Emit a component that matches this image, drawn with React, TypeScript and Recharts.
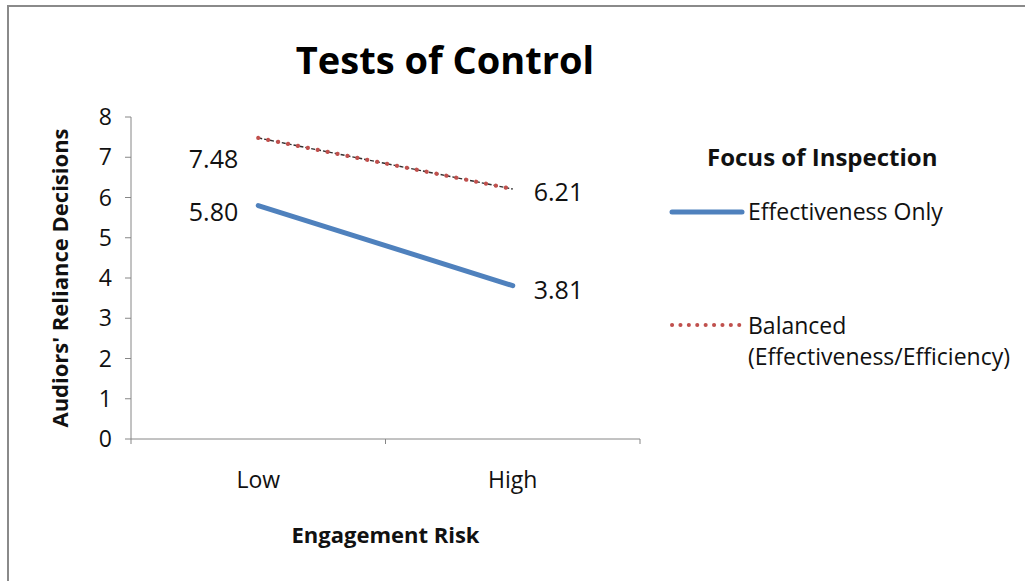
import React from 'react';
import { LineChart, Line, XAxis, YAxis, Legend, LabelList } from 'recharts';

const categories = ['Low', 'High'];
const effectivenessOnly = [5.80, 3.81];
const balanced = [7.48, 6.21];
const yTicks = [0, 1, 2, 3, 4, 5, 6, 7, 8];
const xTickPositions = [0, 0.5, 1, 1.5, 2];
const seriesNames = ['Effectiveness Only', 'Balanced'];
const balancedSecondLine = '(Effectiveness/Efficiency)';
const chartTitle = 'Tests of Control';
const legendTitle = 'Focus of Inspection';
const xTitle = 'Engagement Risk';
const yTitle = "Audiors' Reliance Decisions";

const data = categories.map((c, i) => ({
  pos: i + 0.5,
  category: c,
  eff: effectivenessOnly[i],
  bal: balanced[i],
}));

const FONT = '"Open Sans", sans-serif';
const AXIS = '#868686';
const BLUE = '#4F81BD';
const RED = '#C0504D';

const XTick = (props: any) => {
  const { x, y, payload } = props;
  const v = payload.value;
  if (Number.isInteger(v)) {
    return <line x1={x} x2={x} y1={y} y2={y + 5} stroke={AXIS} strokeWidth={1} />;
  }
  return (
    <text x={x} y={y + 49} textAnchor="middle" fontFamily={FONT} fontSize={23} fill="#111">
      {categories[Math.floor(v)]}
    </text>
  );
};

const YTitle = (props: any) => {
  const vb = props.viewBox || { y: 117, height: 322 };
  const cy = vb.y + vb.height / 2;
  return (
    <text
      transform={`translate(68, ${cy}) rotate(-90)`}
      textAnchor="middle"
      fontFamily={FONT}
      fontSize={22}
      fontWeight={700}
      fill="#111"
    >
      {yTitle}
    </text>
  );
};

const XTitle = (props: any) => {
  const vb = props.viewBox || { x: 131, width: 509 };
  const cx = vb.x + vb.width / 2;
  return (
    <text x={cx} y={543} textAnchor="middle" fontFamily={FONT} fontSize={22} fontWeight={700} fill="#111">
      {xTitle}
    </text>
  );
};

const makeLabel = (leftDy: number, rightDy: number, values: number[]) => (props: any) => {
  const { x, y, index } = props;
  const txt = values[index].toFixed(2);
  if (index === 0) {
    return (
      <text x={x - 20} y={y + leftDy} textAnchor="end" dominantBaseline="central" fontFamily={FONT} fontSize={25} fill="#111">
        {txt}
      </text>
    );
  }
  return (
    <text x={x + 21} y={y + rightDy} textAnchor="start" dominantBaseline="central" fontFamily={FONT} fontSize={25} fill="#111">
      {txt}
    </text>
  );
};

const LegendContent = () => (
  <div style={{ fontFamily: FONT, color: '#111', position: 'relative', width: 365, height: 240 }}>
    <div style={{ position: 'absolute', left: 47, top: 0, fontSize: 24, fontWeight: 700, whiteSpace: 'nowrap' }}>
      {legendTitle}
    </div>
    <svg style={{ position: 'absolute', left: 0, top: 62 }} width={90} height={20}>
      <line x1={12} x2={82} y1={10} y2={10} stroke={BLUE} strokeWidth={5} strokeLinecap="round" />
    </svg>
    <div style={{ position: 'absolute', left: 88, top: 55, fontSize: 23, whiteSpace: 'nowrap' }}>
      {seriesNames[0]}
    </div>
    <svg style={{ position: 'absolute', left: 0, top: 175 }} width={90} height={20}>
      <line x1={12} x2={82} y1={10} y2={10} stroke={RED} strokeWidth={4} strokeLinecap="round" strokeDasharray="0.1 8.3" />
    </svg>
    <div style={{ position: 'absolute', left: 88, top: 170, fontSize: 23, lineHeight: '31px', whiteSpace: 'nowrap' }}>
      <div>{seriesNames[1]}</div>
      <div>{balancedSecondLine}</div>
    </div>
  </div>
);

export default function App() {
  return (
    <div style={{ position: 'absolute', left: 0, top: 0, width: 1025, height: 581, background: '#fff', overflow: 'hidden' }}>
      <div
        style={{
          position: 'absolute',
          left: 7,
          top: 5,
          width: 1030,
          height: 590,
          borderLeft: '2px solid #8a8a8a',
          borderTop: '2px solid #8a8a8a',
        }}
      />
      <div
        style={{
          position: 'absolute',
          left: 245,
          top: 33,
          width: 400,
          textAlign: 'center',
          fontFamily: FONT,
          fontSize: 38,
          fontWeight: 700,
          color: '#000',
          whiteSpace: 'nowrap',
        }}
      >
        {chartTitle}
      </div>
      <div style={{ position: 'absolute', left: 0, top: 0 }}>
        <LineChart
          width={1025}
          height={581}
          data={data}
          margin={{ top: 117, right: 20, bottom: 82, left: 91 }}
        >
          <XAxis
            dataKey="pos"
            type="number"
            domain={[0, 2]}
            ticks={xTickPositions}
            interval={0}
            tick={<XTick />}
            tickLine={false}
            tickSize={0}
            tickMargin={0}
            axisLine={{ stroke: AXIS, strokeWidth: 1 }}
            height={60}
            label={<XTitle />}
          />
          <YAxis
            type="number"
            domain={[0, 8]}
            ticks={yTicks}
            interval={0}
            width={40}
            tickSize={6}
            tickMargin={13}
            tickLine={{ stroke: AXIS }}
            axisLine={{ stroke: AXIS, strokeWidth: 1 }}
            tick={{ fontFamily: FONT, fontSize: 23, fill: '#111' }}
            label={<YTitle />}
          />
          <Legend
            layout="vertical"
            align="right"
            verticalAlign="middle"
            width={365}
            content={<LegendContent />}
            wrapperStyle={{ position: 'absolute', left: 660, top: 140, width: 365, height: 240 }}
          />
          <Line
            dataKey="eff"
            name={seriesNames[0]}
            stroke={BLUE}
            strokeWidth={5}
            strokeLinecap="round"
            dot={false}
            activeDot={false}
            isAnimationActive={false}
          >
            <LabelList dataKey="eff" content={makeLabel(5, 3, effectivenessOnly)} />
          </Line>
          <Line
            dataKey="bal"
            name="balanced-underlay"
            legendType="none"
            stroke="#2e2e2e"
            strokeWidth={1.4}
            strokeDasharray="4 2"
            dot={false}
            activeDot={false}
            isAnimationActive={false}
          />
          <Line
            dataKey="bal"
            name={seriesNames[1]}
            stroke={RED}
            strokeWidth={4.2}
            strokeLinecap="round"
            strokeDasharray="0.1 10"
            dot={false}
            activeDot={false}
            isAnimationActive={false}
          >
            <LabelList dataKey="bal" content={makeLabel(20, 2, balanced)} />
          </Line>
        </LineChart>
      </div>
    </div>
  );
}
